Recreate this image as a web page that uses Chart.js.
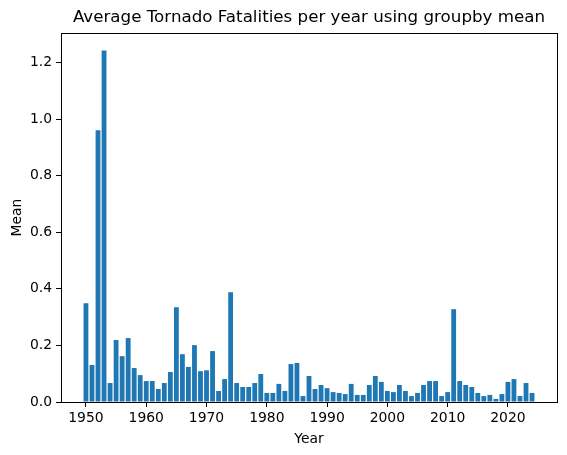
<!DOCTYPE html>
<html>
<head>
<meta charset="utf-8">
<script src="https://cdn.jsdelivr.net/npm/chart.js@4"></script>
<style>
  html, body { margin: 0; padding: 0; background: #fff; }
  #wrap { width: 567px; height: 455px; }
</style>
</head>
<body>
<div id="wrap"><canvas id="chart"></canvas></div>
<script>
const years = [];
for (let y = 1950; y <= 2024; y++) years.push(y);

const means = [
  0.349, 0.131, 0.960, 1.242, 0.067, 0.219, 0.162, 0.226, 0.120, 0.095,
  0.074, 0.074, 0.046, 0.067, 0.106, 0.335, 0.169, 0.124, 0.201, 0.109,
  0.112, 0.180, 0.039, 0.081, 0.388, 0.067, 0.053, 0.053, 0.067, 0.099,
  0.032, 0.032, 0.064, 0.039, 0.134, 0.138, 0.021, 0.092, 0.046, 0.060,
  0.049, 0.035, 0.032, 0.028, 0.064, 0.025, 0.025, 0.060, 0.092, 0.071,
  0.039, 0.035, 0.060, 0.039, 0.021, 0.032, 0.060, 0.074, 0.074, 0.021,
  0.035, 0.328, 0.074, 0.060, 0.053, 0.032, 0.021, 0.025, 0.011, 0.028,
  0.071, 0.081, 0.021, 0.067, 0.032
];

const xTicks = [1950, 1960, 1970, 1980, 1990, 2000, 2010, 2020];
const yTicks = [0, 0.2, 0.4, 0.6, 0.8, 1.0, 1.2];

const font = "'DejaVu Sans', sans-serif";

// box around the plot area like matplotlib spines
const frame = {
  id: "frame",
  afterDraw(chart) {
    const { ctx, chartArea: a } = chart;
    ctx.save();
    ctx.strokeStyle = "#000";
    ctx.lineWidth = 1;
    ctx.strokeRect(Math.round(a.left) + 0.5, Math.round(a.top) + 0.5,
      Math.round(a.right - a.left), Math.round(a.bottom - a.top));
    ctx.restore();
  },
};

const ctx = document.querySelector("#chart").getContext("2d");

new Chart(ctx, {
  type: "bar",
  data: {
    datasets: [
      {
        data: years.map((y, i) => ({ x: y, y: means[i] })),
        backgroundColor: "#1f77b4",
        borderWidth: 0,
        categoryPercentage: 1,
        barPercentage: 0.8,
      },
    ],
  },
  plugins: [frame],
  options: {
    responsive: true,
    maintainAspectRatio: false,
    animation: false,
    layout: { padding: { left: 0, right: 10, top: 0, bottom: 0 } },
    plugins: {
      legend: { display: false },
      tooltip: { enabled: false },
      title: {
        display: true,
        text: "Average Tornado Fatalities per year using groupby mean",
        color: "#000",
        fullSize: false,
        font: { family: font, size: 16.7, weight: "normal" },
        padding: { top: 8, bottom: 5 },
      },
    },
    scales: {
      x: {
        type: "linear",
        min: 1945.86,
        max: 2028.14,
        offset: false,
        afterBuildTicks: (s) => { s.ticks = xTicks.map((v) => ({ value: v })); },
        afterFit: (s) => { s.height = 53; },
        ticks: {
          color: "#000",
          font: { family: font, size: 13.9 },
          padding: 3,
          maxRotation: 0,
          autoSkip: false,
          callback: (v) => String(v),
        },
        grid: { display: true, offset: false, drawOnChartArea: false, tickLength: 5, tickColor: "#000" },
        border: { display: true, color: "#000", width: 1 },
        title: {
          display: true,
          text: "Year",
          color: "#000",
          font: { family: font, size: 13.9 },
          padding: { top: 2, bottom: 7 },
        },
      },
      y: {
        min: 0,
        max: 1.304,
        afterBuildTicks: (s) => { s.ticks = yTicks.map((v) => ({ value: v })); },
        afterFit: (s) => { s.width = 61; },
        ticks: {
          color: "#000",
          font: { family: font, size: 13.9 },
          padding: 4,
          callback: (v) => v.toFixed(1),
        },
        grid: { display: true, offset: false, drawOnChartArea: false, tickLength: 5, tickColor: "#000" },
        border: { display: true, color: "#000", width: 1 },
        title: {
          display: true,
          text: "Mean",
          color: "#000",
          font: { family: font, size: 13.9 },
          padding: { top: 9, bottom: 0 },
        },
      },
    },
  },
});
</script>
</body>
</html>
